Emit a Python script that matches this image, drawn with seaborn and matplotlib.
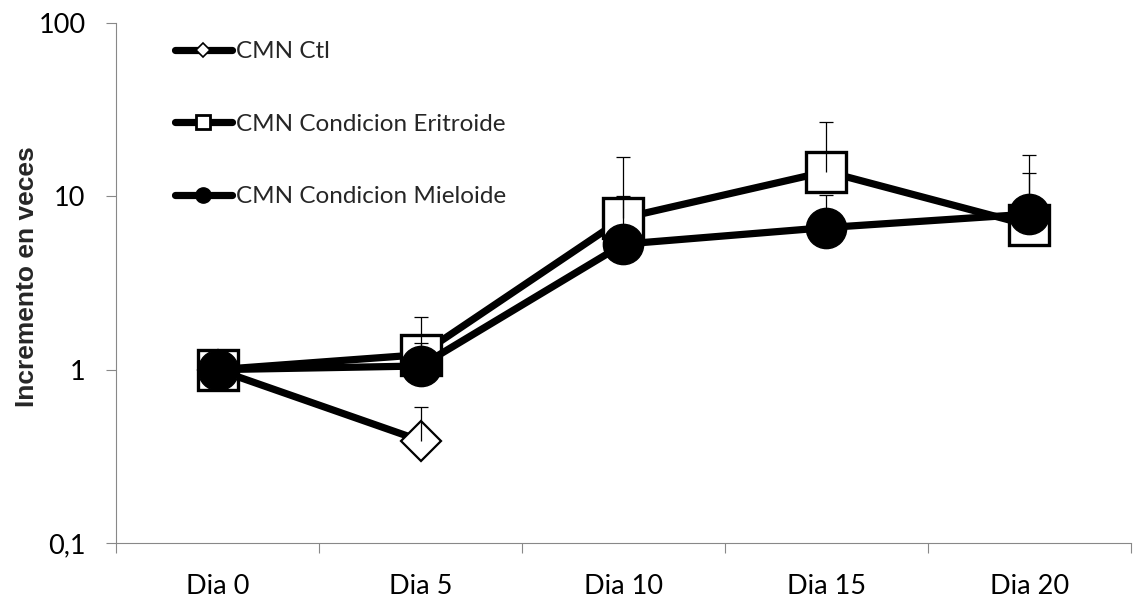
import numpy as np
import pandas as pd
import matplotlib
matplotlib.use("Agg")
import matplotlib.pyplot as plt
from matplotlib.lines import Line2D
from matplotlib.ticker import FixedLocator, NullLocator, FuncFormatter
import seaborn as sns

# Fold increase over time for each culture condition
dias = ["Dia 0", "Dia 5", "Dia 10", "Dia 15", "Dia 20"]

ctl = [1.0, 0.39]
ctl_err = [0.0, 0.22]

eritroide = [1.0, 1.22, 7.5, 13.9, 6.8]
eritroide_err = [0.0, 0.78, 9.4, 13.1, 10.6]

mieloide = [1.0, 1.05, 5.3, 6.6, 7.9]
mieloide_err = [0.0, 0.38, 4.8, 3.6, 5.8]

series_names = ["CMN Ctl", "CMN Condicion Eritroide", "CMN Condicion Mieloide"]

sns.set_theme(style="white")
plt.rcParams["font.family"] = ["Lato", "DejaVu Sans"]

fig = plt.figure(figsize=(11.33, 6.0), dpi=100)
ax = fig.add_axes([0.1024, 0.095, 0.8958, 0.8667])

axis_grey = "#888888"
lw = 5.2
tick_fs = 19.5
legend_fs = 17.5

styles = {
    "CMN Ctl": dict(marker="D", ms=20, mfc="white", mec="black", mew=1.6),
    "CMN Condicion Eritroide": dict(marker="s", ms=28.5, mfc="white", mec="black", mew=2.4),
    "CMN Condicion Mieloide": dict(marker="o", ms=29, mfc="black", mec="black", mew=1.0),
}
values = {
    "CMN Ctl": (ctl, ctl_err),
    "CMN Condicion Eritroide": (eritroide, eritroide_err),
    "CMN Condicion Mieloide": (mieloide, mieloide_err),
}

for z, name in enumerate(series_names):
    vals, errs = values[name]
    df = pd.DataFrame({"x": np.arange(len(vals)), "y": vals})
    sns.lineplot(data=df, x="x", y="y", ax=ax, color="black", lw=lw,
                 solid_joinstyle="miter", solid_capstyle="round",
                 zorder=3 + 2 * z, legend=False, **styles[name])
    # upper-only error bars: hide the cap at the lower end
    _, caps, _ = ax.errorbar(df["x"], df["y"], yerr=[np.zeros(len(vals)), errs],
                             fmt="none", ecolor="black", elinewidth=0.9,
                             capsize=4.7, capthick=0.9, zorder=4 + 2 * z)
    caps[0].set_visible(False)

ax.set_yscale("log")
ax.set_ylim(0.1, 100)
ax.set_xlim(-0.5, len(dias) - 0.5)

ax.yaxis.set_major_locator(FixedLocator([0.1, 1, 10, 100]))
ax.yaxis.set_minor_locator(NullLocator())
ax.yaxis.set_major_formatter(
    FuncFormatter(lambda v, _: ("%g" % v).replace(".", ",")))

# Category labels centred, tick marks on the category boundaries
ax.xaxis.set_major_locator(FixedLocator(np.arange(-0.5, len(dias), 1.0)))
ax.xaxis.set_major_formatter(FuncFormatter(lambda v, _: ""))
ax.xaxis.set_minor_locator(FixedLocator(np.arange(len(dias))))
ax.set_xticklabels(dias, minor=True, fontsize=tick_fs)
ax.tick_params(axis="x", which="minor", length=0, pad=22,
               labelsize=tick_fs, labelcolor="black")
ax.tick_params(axis="x", which="major", length=7, width=0.8, color=axis_grey,
               direction="out", bottom=True)
ax.tick_params(axis="y", which="major", length=7, width=0.8, color=axis_grey,
               direction="out", left=True, labelsize=tick_fs,
               labelcolor="black", pad=15)

for side in ["top", "right"]:
    ax.spines[side].set_visible(False)
for side in ["left", "bottom"]:
    ax.spines[side].set_color(axis_grey)
    ax.spines[side].set_linewidth(0.8)

ax.set_xlabel("")
ax.set_ylabel("Incremento en veces", fontsize=19, fontweight="bold",
              family=["Liberation Sans", "DejaVu Sans"])
ax.yaxis.set_label_coords(-0.076, 0.513)

handles = [
    Line2D([], [], color="black", lw=lw, marker="D", ms=7, mfc="white",
           mec="black", mew=1.2, solid_capstyle="round"),
    Line2D([], [], color="black", lw=lw, marker="s", ms=10, mfc="white",
           mec="black", mew=2.0, solid_capstyle="round"),
    Line2D([], [], color="black", lw=lw, marker="o", ms=11, mfc="black",
           mec="black", solid_capstyle="round"),
]
ax.legend(handles, series_names, loc="upper left",
          bbox_to_anchor=(0.058, 0.965), frameon=False, fontsize=legend_fs,
          handlelength=2.35, handletextpad=0.16, labelspacing=2.12,
          borderpad=0, borderaxespad=0)

fig.savefig("out.png", dpi=100, facecolor="white")
